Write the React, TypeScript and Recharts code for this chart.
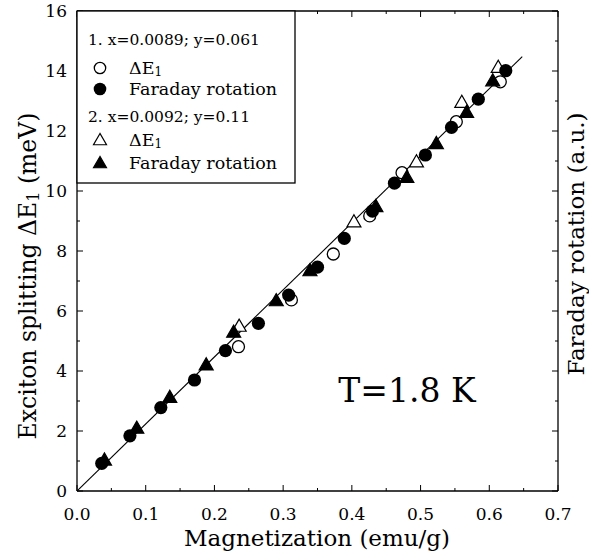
import React from "react";
import { ScatterChart, Scatter, XAxis, YAxis } from "recharts";

type Pt = { x: number; y: number };

// sample 1: x=0.0089; y=0.061
const sample1DeltaE: Pt[] = [
  { x: 0.235, y: 4.81 }, { x: 0.312, y: 6.37 }, { x: 0.373, y: 7.9 },
  { x: 0.426, y: 9.17 }, { x: 0.473, y: 10.61 }, { x: 0.552, y: 12.31 },
  { x: 0.616, y: 13.64 },
];
const sample1Faraday: Pt[] = [
  { x: 0.036, y: 0.92 }, { x: 0.077, y: 1.84 }, { x: 0.122, y: 2.78 },
  { x: 0.171, y: 3.7 }, { x: 0.216, y: 4.68 }, { x: 0.264, y: 5.59 },
  { x: 0.308, y: 6.53 }, { x: 0.35, y: 7.46 }, { x: 0.389, y: 8.42 },
  { x: 0.43, y: 9.33 }, { x: 0.462, y: 10.26 }, { x: 0.507, y: 11.2 },
  { x: 0.545, y: 12.12 }, { x: 0.584, y: 13.06 }, { x: 0.624, y: 14.01 },
];
// sample 2: x=0.0092; y=0.11
const sample2DeltaE: Pt[] = [
  { x: 0.236, y: 5.46 }, { x: 0.403, y: 8.94 }, { x: 0.494, y: 10.94 },
  { x: 0.56, y: 12.92 }, { x: 0.613, y: 14.09 },
];
const sample2Faraday: Pt[] = [
  { x: 0.04, y: 1.0 }, { x: 0.087, y: 2.06 }, { x: 0.135, y: 3.09 },
  { x: 0.188, y: 4.17 }, { x: 0.228, y: 5.26 }, { x: 0.29, y: 6.31 },
  { x: 0.339, y: 7.31 }, { x: 0.435, y: 9.45 }, { x: 0.48, y: 10.42 },
  { x: 0.523, y: 11.55 }, { x: 0.567, y: 12.59 }, { x: 0.605, y: 13.64 },
];
// linear fit through origin
const fitLine: Pt[] = [{ x: 0, y: 0 }, { x: 0.648, y: 14.48 }];

const xTicks = [0, 0.05, 0.1, 0.15, 0.2, 0.25, 0.3, 0.35, 0.4, 0.45, 0.5, 0.55, 0.6, 0.65, 0.7];
const yTicks = [0, 1, 2, 3, 4, 5, 6, 7, 8, 9, 10, 11, 12, 13, 14, 15, 16];

const FONT = "'DejaVu Serif', serif";
const AXIS = { stroke: "#000", strokeWidth: 1.3 };

const isMajorX = (v: number) => Math.round(v * 100) % 10 === 0;
const isMajorY = (v: number) => Math.round(v) % 2 === 0;

function BottomTick({ x, y, payload }: any) {
  const major = isMajorX(payload.value);
  return (
    <g>
      <line x1={x} x2={x} y1={y} y2={y - (major ? 6 : 3)} stroke="#000" />
      {major && (
        <text x={x} y={y + 29} textAnchor="middle" fontFamily={FONT} fontSize={17} fill="#000">
          {payload.value.toFixed(1)}
        </text>
      )}
    </g>
  );
}

function TopTick({ x, y, payload }: any) {
  const major = isMajorX(payload.value);
  return <line x1={x} x2={x} y1={y} y2={y + (major ? 6 : 3)} stroke="#000" />;
}

function LeftTick({ x, y, payload }: any) {
  const major = isMajorY(payload.value);
  return (
    <g>
      <line x1={x} x2={x + (major ? 6 : 3)} y1={y} y2={y} stroke="#000" />
      {major && (
        <text x={x - 10} y={y} dy="0.36em" textAnchor="end" fontFamily={FONT} fontSize={17} fill="#000">
          {payload.value}
        </text>
      )}
    </g>
  );
}

function RightTick({ x, y, payload }: any) {
  const major = isMajorY(payload.value);
  return <line x1={x} x2={x - (major ? 6 : 3)} y1={y} y2={y} stroke="#000" />;
}

// markers
const circle = (cx: number, cy: number, filled: boolean, r = 6.6) => (
  <circle cx={cx} cy={cy} r={filled ? r : r - 0.6} fill={filled ? "#000" : "#fff"} stroke="#000" strokeWidth={filled ? 0 : 1.3} />
);
const triangle = (cx: number, cy: number, filled: boolean, s = 14) => {
  const h = s * 0.87;
  const pts = `${cx},${cy - (2 * h) / 3} ${cx - s / 2},${cy + h / 3} ${cx + s / 2},${cy + h / 3}`;
  return <polygon points={pts} fill={filled ? "#000" : "#fff"} stroke="#000" strokeWidth={1.2} strokeLinejoin="miter" />;
};

const OpenCircle = (p: any) => circle(p.cx, p.cy, false);
const FilledCircle = (p: any) => circle(p.cx, p.cy, true);
const OpenTriangle = (p: any) => triangle(p.cx, p.cy, false);
const FilledTriangle = (p: any) => triangle(p.cx, p.cy, true);
const NoPoint = () => <g />;

export default function App() {
  return (
    <div style={{ position: "absolute", left: 0, top: 0, width: 589, height: 554, background: "#fff" }}>
      <ScatterChart width={589} height={554} margin={{ top: 6, right: 11, bottom: 33, left: 17 }}>
        <XAxis xAxisId="bottom" type="number" dataKey="x" domain={[0, 0.7]} ticks={xTicks} interval={0}
          tick={(p: any) => <BottomTick {...p} />} tickLine={false} tickSize={0} tickMargin={0}
          axisLine={AXIS} height={30} allowDataOverflow />
        <XAxis xAxisId="top" orientation="top" type="number" dataKey="x" domain={[0, 0.7]} ticks={xTicks} interval={0}
          tick={(p: any) => <TopTick {...p} />} tickLine={false} tickSize={0} tickMargin={0}
          axisLine={AXIS} height={5} allowDataOverflow />
        <YAxis yAxisId="left" type="number" dataKey="y" domain={[0, 16]} ticks={yTicks} interval={0}
          tick={(p: any) => <LeftTick {...p} />} tickLine={false} tickSize={0} tickMargin={0}
          axisLine={AXIS} width={60} allowDataOverflow />
        <YAxis yAxisId="right" orientation="right" type="number" dataKey="y" domain={[0, 16]} ticks={yTicks} interval={0}
          tick={(p: any) => <RightTick {...p} />} tickLine={false} tickSize={0} tickMargin={0}
          axisLine={AXIS} width={20} allowDataOverflow />
        <Scatter data={fitLine} xAxisId="top" yAxisId="right" line={{ stroke: "#000", strokeWidth: 1.1 }}
          shape={NoPoint} isAnimationActive={false} />
        <Scatter data={sample1DeltaE} xAxisId="bottom" yAxisId="left" shape={OpenCircle} isAnimationActive={false} />
        <Scatter data={sample2DeltaE} xAxisId="bottom" yAxisId="left" shape={OpenTriangle} isAnimationActive={false} />
        <Scatter data={sample1Faraday} xAxisId="bottom" yAxisId="left" shape={FilledCircle} isAnimationActive={false} />
        <Scatter data={sample2Faraday} xAxisId="bottom" yAxisId="left" shape={FilledTriangle} isAnimationActive={false} />
      </ScatterChart>

      <svg width={589} height={554} style={{ position: "absolute", left: 0, top: 0, pointerEvents: "none" }}
        fontFamily={FONT} fill="#000">
        {/* legend box */}
        <rect x={77} y={11} width={218} height={172} fill="#fff" stroke="#000" strokeWidth={1.3} />
        <text x={88} y={40} fontSize={15.5} dominantBaseline="central">1. x=0.0089; y=0.061</text>
        {circle(100, 68, false, 6.3)}
        <text x={129} y={68} fontSize={17.5} dominantBaseline="central">ΔE<tspan dy={4} fontSize={12}>1</tspan></text>
        {circle(100, 89, true, 6.3)}
        <text x={129} y={89} fontSize={17.5} dominantBaseline="central">Faraday rotation</text>
        <text x={88} y={117} fontSize={15.5} dominantBaseline="central">2. x=0.0092; y=0.11</text>
        {triangle(100, 141, false, 13)}
        <text x={129} y={140} fontSize={17.5} dominantBaseline="central">ΔE<tspan dy={4} fontSize={12}>1</tspan></text>
        {triangle(100, 164, true, 13)}
        <text x={129} y={163} fontSize={17.5} dominantBaseline="central">Faraday rotation</text>

        {/* axis titles */}
        <text x={317} y={546} fontSize={23} textAnchor="middle">Magnetization (emu/g)</text>
        <text transform="translate(28,276) rotate(-90)" fontSize={23.5} textAnchor="middle" dominantBaseline="central">
          Exciton splitting ΔE<tspan dy={5} fontSize={16}>1</tspan><tspan dy={-5}> (meV)</tspan>
        </text>
        <text transform="translate(576,244) rotate(-90)" fontSize={23} textAnchor="middle" dominantBaseline="central">
          Faraday rotation (a.u.)
        </text>

        <text x={407} y={390} fontSize={33} textAnchor="middle" dominantBaseline="central">T=1.8 K</text>
      </svg>
    </div>
  );
}
